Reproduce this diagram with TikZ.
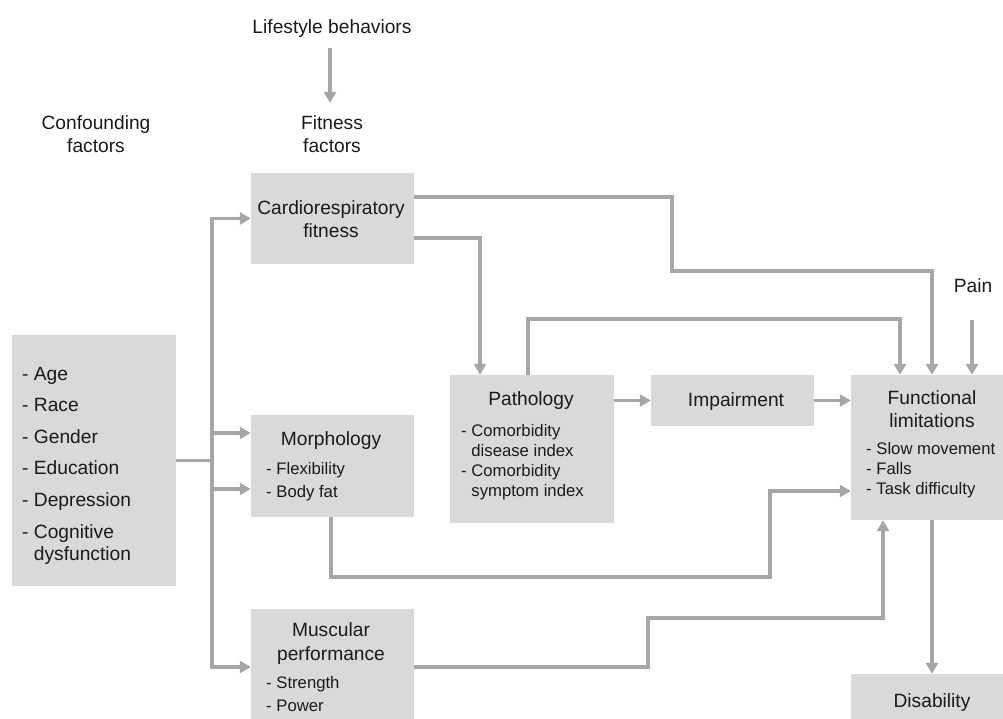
\documentclass[tikz,border=0pt]{standalone}
\usepackage{fontspec}
\setmainfont{Liberation Sans}
\usetikzlibrary{arrows.meta}
\definecolor{boxgray}{HTML}{D9D9D9}
\definecolor{linegray}{HTML}{A6A6A6}
\definecolor{txt}{HTML}{1A1A1A}
\begin{document}
\begin{tikzpicture}[x=1pt,y=-1pt,
  box/.style={fill=boxgray,draw=none,inner sep=0pt},
  big/.style={font=\fontsize{19.2}{23}\selectfont,text=txt,inner sep=0pt,anchor=base},
  bigl/.style={font=\fontsize{19.2}{23}\selectfont,text=txt,inner sep=0pt,anchor=base west},
  sm/.style={font=\fontsize{16.7}{20}\selectfont,text=txt,inner sep=0pt,anchor=base west},
  conn/.style={draw=linegray,line width=3.2pt},
  arr/.style={conn,-{Triangle[length=11pt,width=12pt]}}]
\useasboundingbox (0,0) rectangle (1003,719);
% boxes
\node[box,minimum width=164pt,minimum height=251pt] (conf) at (94,460.5) {};
\node[box,minimum width=163pt,minimum height=91pt] (cardio) at (332.5,218.5) {};
\node[box,minimum width=163pt,minimum height=102pt] (morph) at (332.5,466) {};
\node[box,minimum width=163pt,minimum height=121pt] (musc) at (332.5,669.5) {};
\node[box,minimum width=164pt,minimum height=148pt] (path) at (532,449) {};
\node[box,minimum width=163pt,minimum height=51pt] (imp) at (732.5,400.5) {};
\node[box,minimum width=162pt,minimum height=145pt] (func) at (932,447.5) {};
\node[box,minimum width=162pt,minimum height=56pt] (dis) at (932,702) {};
% coordinates
\coordinate (tr) at (212,460.5);
\coordinate (m433) at (212,433);
\coordinate (m489) at (212,489);
\coordinate (mu) at (212,667);
\coordinate (ls) at (330,48);
\coordinate (le) at (330,103);
\coordinate (loop) at (900,319);
\coordinate (painS) at (972,320);
\coordinate (m1) at (770,577);
\coordinate (u1) at (648,618);
\coordinate (c1) at (672,271);
% connectors
\draw[conn] (conf.east) -- (tr);
\draw[arr] (tr) |- (cardio.west);
\draw[arr] (tr) |- (mu) -- (mu -| musc.west);
\draw[arr] (m433) -- (m433 -| morph.west);
\draw[arr] (m489) -- (m489 -| morph.west);
\draw[arr] (ls) -- (le);
\draw[arr] ([yshift=-19.5pt]cardio.east) -| ([xshift=-52pt]path.north);
\draw[arr] ([yshift=21.5pt]cardio.east) -| (c1) -| (func.north);
\draw[arr] ([xshift=-4pt]path.north) |- (loop) -- (loop |- func.north);
\draw[arr] (path.east |- imp.west) -- (imp.west);
\draw[arr] (imp.east) -- (imp.east -| func.west);
\draw[arr] (painS) -- (painS |- func.north);
\draw[arr] ([xshift=-1.5pt]morph.south) |- (m1) |- ([yshift=-43.5pt]func.west);
\draw[arr] ([yshift=2.5pt]musc.east) -| (u1) -| ([xshift=-49pt]func.south);
\draw[arr] (func.south) -- (dis.north);
% texts
\node[big] (tlife) at (332,34) {Lifestyle behaviors};
\node[big] (tfit1) at (332,130) {Fitness};
\node[big] (tfit2) at (332,153) {factors};
\node[big] (tcf1) at (96,130) {Confounding};
\node[big] (tcf2) at (96,153) {factors};
\node[bigl] (l1) at (22,380) {- Age};
\node[bigl] (l2) at (22,411) {- Race};
\node[bigl] (l3) at (22,443) {- Gender};
\node[bigl] (l4) at (22,474) {- Education};
\node[bigl] (l5) at (22,506) {- Depression};
\node[bigl] (l6) at (22,538) {- Cognitive};
\node[bigl] (l7) at (22,560) {\hphantom{- }dysfunction};
\node[big] (tca1) at (331,215) {Cardiorespiratory};
\node[big] (tca2) at (331,238) {fitness};
\node[big] (tmo) at (331,445) {Morphology};
\node[sm] (tmo1) at (266,474) {- Flexibility};
\node[sm] (tmo2) at (266,497) {- Body fat};
\node[big] (tmu1) at (331,636) {Muscular};
\node[big] (tmu2) at (331,660) {performance};
\node[sm] (tmu3) at (266,688) {- Strength};
\node[sm] (tmu4) at (266,711) {- Power};
\node[big] (tpa) at (531,405) {Pathology};
\node[sm] (tpa1) at (461,436) {- Comorbidity};
\node[sm] (tpa2) at (461,456) {\hphantom{- }disease index};
\node[sm] (tpa3) at (461,476) {- Comorbidity};
\node[sm] (tpa4) at (461,496) {\hphantom{- }symptom index};
\node[big] (tim) at (736,406) {Impairment};
\node[big] (tfu1) at (932,404) {Functional};
\node[big] (tfu2) at (932,427) {limitations};
\node[sm] (tfu3) at (866,454) {- Slow movement};
\node[sm] (tfu4) at (866,474) {- Falls};
\node[sm] (tfu5) at (866,494) {- Task difficulty};
\node[big] (tdi) at (932,707) {Disability};
\node[big] (tpain) at (973,292) {Pain};
\end{tikzpicture}
\end{document}
